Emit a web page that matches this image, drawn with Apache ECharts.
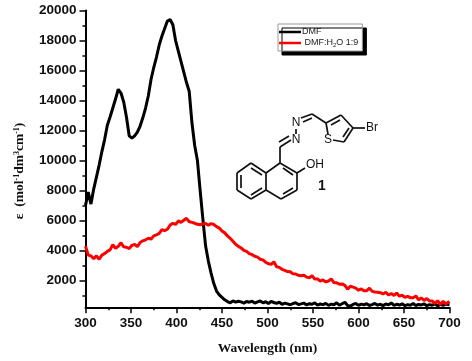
<!DOCTYPE html>
<html>
<head>
<meta charset="utf-8">
<style>
  html, body { margin: 0; background: #fff; }
  #chart { width: 472px; height: 361px; }
</style>
<script src="https://cdn.jsdelivr.net/npm/echarts@6/dist/echarts.min.js"></script>
</head>
<body>
<div id="chart"></div>
<script>
// values, every 3 nm
const wavelengths = [
  300, 303, 306, 309, 312, 315, 318, 321, 324, 327,
  330, 333, 336, 339, 342, 345, 348, 351, 354, 357,
  360, 363, 366, 369, 372, 375, 378, 381, 384, 387,
  390, 393, 396, 399, 402, 405, 408, 411, 414, 417,
  420, 423, 426, 429, 432, 435, 438, 441, 444, 447,
  450, 453, 456, 459, 462, 465, 468, 471, 474, 477,
  480, 483, 486, 489, 492, 495, 498, 501, 504, 507,
  510, 513, 516, 519, 522, 525, 528, 531, 534, 537,
  540, 543, 546, 549, 552, 555, 558, 561, 564, 567,
  570, 573, 576, 579, 582, 585, 588, 591, 594, 597,
  600, 603, 606, 609, 612, 615, 618, 621, 624, 627,
  630, 633, 636, 639, 642, 645, 648, 651, 654, 657,
  660, 663, 666, 669, 672, 675, 678, 681, 684, 687,
  690, 693, 696, 700
]
const dmf = [
  7000, 7900, 7100, 8100, 8900, 9700, 10600, 11400, 12350, 12900,
  13500, 14100, 14750, 14500, 13900, 12900, 11650, 11500, 11650, 11900,
  12300, 12850, 13500, 14300, 15400, 16200, 16900, 17700, 18300, 18800,
  19300, 19400, 19050, 18000, 17300, 16600, 15900, 15200, 14600, 12500,
  11000, 10000, 8000, 6100, 4300, 3300, 2500, 1800, 1300, 1050,
  880, 720, 600, 520, 640, 560, 620, 580, 500, 610,
  560, 620, 500, 580, 640, 520, 590, 470, 610, 540,
  480, 560, 420, 500, 450, 390, 470, 520, 400, 450,
  500, 380, 460, 420, 520, 370, 440, 400, 480, 350,
  430, 390, 520, 360, 460, 560, 340, 300, 410, 470,
  350, 430, 380, 460, 340, 400, 480, 360, 420, 330,
  440, 380, 510, 350, 420, 370, 450, 330, 400, 360,
  470, 340, 410, 380, 450, 330, 400, 360, 440, 320,
  410, 350, 430, 380
]
const dmfWater = [
  4300, 3700, 3650, 3450, 3650, 3420, 3700, 3800, 3950, 4050,
  4400, 4150, 4280, 4520, 4250, 4220, 4130, 4350, 4420, 4260,
  4540, 4650, 4720, 4820, 4760, 4980, 5050, 5150, 5400, 5330,
  5420, 5700, 5820, 5740, 5980, 5880, 6020, 6150, 5920, 5880,
  5820, 5750, 5720, 5780, 5800, 5680, 5800, 5740, 5600, 5500,
  5300, 5180, 4980, 4820, 4620, 4420, 4280, 4170, 4020, 3950,
  3800, 3730, 3620, 3560, 3420, 3380, 3220, 3120, 3080, 3250,
  2920, 2880, 2750, 2680, 2600, 2590, 2450, 2440, 2350, 2320,
  2360, 2230, 2190, 2320, 2100, 2110, 1960, 2040, 1910, 1970,
  2120, 1860, 1850, 1760, 1780, 1680, 1430, 1620, 1560, 1500,
  1360, 1440, 1320, 1320, 1500, 1280, 1240, 1220, 1190, 1110,
  1220, 1040, 1140, 1010, 1170, 960, 1020, 880, 950, 860,
  850, 980, 720, 840, 680, 800, 640, 640, 480, 660,
  400, 620, 450, 610
]
const yTicks = [2000, 4000, 6000, 8000, 10000, 12000, 14000, 16000, 18000, 20000]
const yMinorTicks = [1000, 3000, 5000, 7000, 9000, 11000, 13000, 15000, 17000, 19000]

// compound 1 sketch, page pixels
const bonds = [
  [251, 163, 266, 173], [266, 173, 266, 190], [266, 190, 251, 199], [251, 199, 237, 190], [237, 190, 237, 173], [237, 173, 251, 163],
  [266, 173, 280, 163], [280, 163, 297, 173], [297, 173, 297, 190], [297, 190, 281, 199], [281, 199, 266, 190],
  [241, 175, 241, 188], [251, 168, 262, 175], [251, 195, 262, 188], [283, 168, 293, 175], [283, 194, 293, 188],
  [297, 173, 305, 168], [280, 163, 280, 147], [280, 147, 291, 140], [279, 142, 289, 136],
  [296, 134, 296, 129], [301, 118, 312, 114], [303, 122, 312, 118], [312, 114, 326, 123],
  [326, 123, 328, 134], [333, 140, 344, 142], [344, 142, 353, 128], [353, 128, 341, 115], [341, 115, 326, 123],
  [331, 125, 340, 120], [343, 137, 349, 128], [353, 128, 365, 128]
]
const atoms = [
  ['OH', 315, 165], ['N', 296, 140], ['N', 296, 123], ['S', 328, 140], ['Br', 372, 128]
]

const sansFont = '"Liberation Sans", Arial, sans-serif'
const serifFont = '"Liberation Serif", "Times New Roman", serif'

const chart = echarts.init(document.getElementById('chart'), null, { renderer: 'canvas' })

const bondShapes = bonds.map(b => ({
  type: 'line',
  shape: { x1: b[0], y1: b[1], x2: b[2], y2: b[3] },
  style: { stroke: '#111', lineWidth: 1.7 }
}))
const atomLabels = atoms.map(a => ({
  type: 'text',
  x: a[1],
  y: a[2],
  style: { text: a[0], fill: '#111', font: '12px ' + sansFont, align: 'center', verticalAlign: 'middle' }
}))

chart.setOption({
  backgroundColor: '#fff',
  animation: false,
  grid: { left: 85.5, right: 22.5, top: 10.5, bottom: 53.7 },
  legend: {
    left: 278,
    top: 24,
    orient: 'vertical',
    icon: 'rect',
    itemWidth: 22,
    itemHeight: 2.5,
    itemGap: 1,
    padding: [3, 4, 3, 1],
    backgroundColor: '#fff',
    borderColor: '#999',
    borderWidth: 1,
    shadowColor: '#000',
    shadowBlur: 0,
    shadowOffsetX: 4,
    shadowOffsetY: 4,
    data: ['DMF', 'DMF:H2O 1:9'],
    formatter: name => name === 'DMF' ? 'DMF' : ' DMF:H{sub|2}O 1:9',
    textStyle: {
      color: '#222',
      fontFamily: sansFont,
      fontSize: 9,
      lineHeight: 10,
      padding: [0, 0, 0, -4],
      rich: { sub: { fontSize: 6, verticalAlign: 'bottom', padding: [4, 0, 0, 0] } }
    }
  },
  xAxis: {
    type: 'value',
    min: 300,
    max: 700,
    interval: 50,
    splitLine: { show: false },
    axisLine: { lineStyle: { color: '#000', width: 2 } },
    axisTick: { length: 6, lineStyle: { color: '#000', width: 1.5 } },
    minorTick: { show: true, splitNumber: 2, length: 3, lineStyle: { color: '#000', width: 1.5 } },
    axisLabel: { color: '#111', fontFamily: sansFont, fontWeight: 'bold', fontSize: 13.5, margin: 9 },
    name: 'Wavelength (nm)',
    nameLocation: 'middle',
    nameGap: 34,
    nameTextStyle: { color: '#111', fontFamily: serifFont, fontWeight: 'bold', fontSize: 13.5 }
  },
  yAxis: [
    {
      type: 'value',
      min: 220,
      max: 20000,
      splitLine: { show: false },
      axisLine: { show: true, lineStyle: { color: '#000', width: 2 } },
      axisTick: { show: true, length: 6, customValues: yTicks, lineStyle: { color: '#000', width: 1.5 } },
      axisLabel: {
        customValues: yTicks,
        formatter: v => String(v),
        color: '#111',
        fontFamily: sansFont,
        fontWeight: 'bold',
        fontSize: 13.5,
        margin: 9
      }
    },
    {
      type: 'value',
      position: 'left',
      min: 220,
      max: 20000,
      splitLine: { show: false },
      axisLine: { show: false },
      axisTick: { show: true, length: 3, customValues: yMinorTicks, lineStyle: { color: '#000', width: 1.5 } },
      axisLabel: { show: false }
    }
  ],
  series: [
    {
      name: 'DMF',
      type: 'line',
      data: wavelengths.map((w, i) => [w, dmf[i]]),
      symbol: 'none',
      lineStyle: { color: '#000', width: 3 },
      itemStyle: { color: '#000' }
    },
    {
      name: 'DMF:H2O 1:9',
      type: 'line',
      data: wavelengths.map((w, i) => [w, dmfWater[i]]),
      symbol: 'none',
      lineStyle: { color: '#f00', width: 3 },
      itemStyle: { color: '#f00' }
    }
  ],
  graphic: [
    {
      type: 'text',
      x: 20,
      y: 171,
      rotation: Math.PI / 2,
      style: {
        text: '{e|\u03b5}  (mol{sup|-1}dm{sup|3}cm{sup|-1})',
        align: 'center',
        verticalAlign: 'middle',
        fill: '#111',
        font: 'bold 13.5px ' + serifFont,
        rich: {
          e: { font: 'bold 13.5px ' + serifFont, fill: '#111' },
          sup: { font: 'bold 8px ' + serifFont, fill: '#111', verticalAlign: 'top', padding: [0, 0, 5, 0] }
        }
      }
    },
    ...bondShapes,
    ...atomLabels,
    {
      type: 'text',
      x: 322,
      y: 186,
      style: { text: '1', fill: '#111', font: 'bold 14px ' + sansFont, align: 'center', verticalAlign: 'middle' }
    }
  ]
})
</script>
</body>
</html>
